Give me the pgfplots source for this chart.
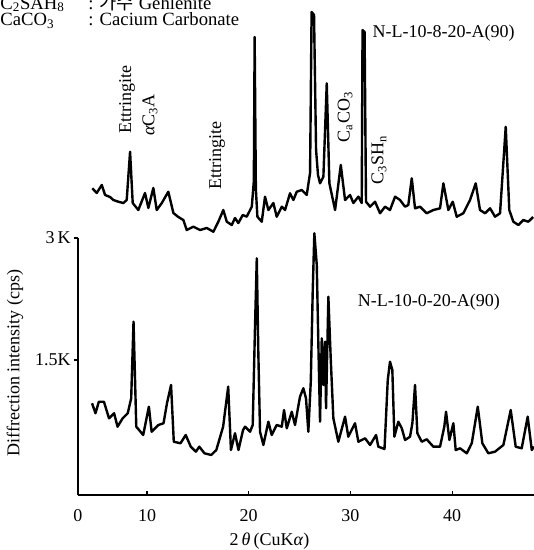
\documentclass[border=0pt]{standalone}
\usepackage{fontspec}
\setmainfont{Liberation Serif}
\newfontfamily\krfont{Noto Sans CJK KR}
\usepackage{pgfplots}
\usepackage{pgfplotstable}
\pgfplotsset{compat=1.18}

% XRD scan, N-L-10-8-20-A(90) (intensity in kcps, shifted upwards)
\pgfplotstableread{
x y
4.62 3.611
5.05 3.553
5.55 3.652
5.87 3.529
6.36 3.504
6.69 3.467
7.18 3.446
7.67 3.430
8.00 3.467
8.33 4.061
8.59 3.430
9.14 3.344
9.80 3.553
10.13 3.369
10.62 3.615
10.95 3.344
11.45 3.430
12.09 3.569
12.59 3.307
13.08 3.258
13.57 3.221
13.90 3.098
14.55 3.139
15.21 3.098
15.87 3.123
16.52 3.077
17.01 3.200
17.50 3.344
17.84 3.200
18.33 3.160
18.65 3.246
18.98 3.184
19.41 3.283
19.80 3.262
20.30 3.385
20.50 3.700
20.58 5.471
20.70 3.600
20.85 3.262
21.28 3.200
21.60 3.508
21.93 3.344
22.42 3.430
22.75 3.262
23.25 3.385
23.57 3.344
24.06 3.550
24.39 3.467
24.72 3.569
25.21 3.590
25.70 3.529
26.03 3.799
26.18 5.779
26.42 5.742
26.62 4.082
26.81 3.775
27.01 3.672
27.34 3.754
27.67 4.902
27.93 3.672
28.49 3.344
29.05 3.898
29.47 3.467
29.96 3.529
30.29 3.430
30.78 3.508
31.11 3.430
31.19 5.557
31.39 5.533
31.53 3.446
31.93 3.385
32.42 3.446
32.91 3.304
33.40 3.385
33.89 3.344
34.39 3.508
34.88 3.467
35.37 3.385
35.69 3.406
36.03 3.734
36.35 3.365
36.84 3.385
37.50 3.304
38.15 3.344
38.81 3.365
39.14 3.672
39.63 3.344
40.06 3.446
40.45 3.262
41.10 3.304
41.76 3.467
42.32 3.672
42.74 3.344
43.24 3.304
43.73 3.365
44.22 3.262
44.71 3.304
45.27 4.368
45.62 3.344
46.02 3.200
46.51 3.160
47.00 3.221
47.49 3.200
47.96 3.258
}\scanA

% XRD scan, N-L-10-0-20-A(90)
\pgfplotstableread{
x y
4.59 0.968
4.93 0.845
5.26 0.987
5.76 0.987
6.26 0.783
6.76 0.845
7.10 0.680
7.60 0.783
8.10 0.845
8.44 1.029
8.67 1.971
8.94 0.680
9.62 0.578
10.18 0.926
10.45 0.618
11.12 0.701
11.62 0.722
11.96 0.968
12.36 1.193
12.63 0.495
13.29 0.476
13.80 0.578
14.30 0.434
14.80 0.373
15.14 0.434
15.64 0.353
16.31 0.332
16.81 0.393
17.48 0.680
17.98 1.172
18.25 0.393
18.65 0.599
18.99 0.393
19.44 0.639
19.64 0.680
20.13 0.618
20.39 0.701
20.62 1.930
20.79 2.750
20.94 1.602
21.11 0.618
21.44 0.455
21.93 0.741
22.26 0.578
22.75 0.701
23.25 0.680
23.47 0.885
23.74 0.660
24.23 0.864
24.55 0.701
25.04 1.049
25.37 1.152
25.63 1.029
25.86 0.618
26.10 1.233
26.29 2.340
26.45 3.058
26.69 2.668
26.84 1.725
27.01 0.741
27.18 1.767
27.34 1.193
27.50 1.725
27.60 0.906
27.83 2.278
28.06 1.521
28.32 0.783
28.81 0.495
29.47 0.803
29.79 0.557
30.45 0.722
30.78 0.495
31.44 0.537
31.93 0.455
32.52 0.578
32.74 0.434
33.35 0.406
33.67 1.254
33.89 1.479
34.12 1.377
34.32 0.557
34.71 0.741
35.05 0.660
35.37 0.516
35.86 0.557
36.09 0.722
36.35 1.193
36.58 0.599
37.01 0.495
37.50 0.525
38.15 0.434
38.81 0.434
39.23 0.680
39.40 0.864
39.73 0.516
40.12 0.722
40.35 0.393
40.78 0.414
41.44 0.353
41.93 0.476
42.52 0.926
42.97 0.476
43.56 0.353
44.22 0.373
45.04 0.455
45.76 0.885
46.25 0.434
46.84 0.414
47.43 0.803
47.83 0.393
48.05 0.434
}\scanB

\begin{document}
\begin{tikzpicture}[font=\fontsize{13.5}{15}\selectfont]
\begin{axis}[
  scale only axis,
  width=342pt, height=192.75pt,
  xmin=3.21, xmax=48.05, ymin=-0.16, ymax=3,
  axis x line*=bottom, axis y line*=left,
  axis line style={-, line width=0.9pt},
  clip=false,
  xtick={3.21,10,20,30,40}, xticklabels={0,10,20,30,40},
  ytick={1.5,3}, yticklabels={1.5K,3\,K},
  tick align=inside,
  major tick length=3pt,
  xtick style={line width=0.9pt, black},
  ytick style={line width=0.9pt, black, xshift=-3pt},
  ticklabel style={font=\fontsize{13.5}{15}\selectfont},
  xticklabel style={yshift=-7pt},
  yticklabel style={xshift=-2pt},
  xlabel={2\,\textit{θ}\,(CuK\textit{α})},
  xlabel style={at={(axis description cs:0.42,-0.18)}, anchor=center},
  ylabel={Diffrection intensity (cps)},
  ylabel style={at={(axis description cs:-0.138,0.514)}, anchor=center},
]
\coordinate (o) at (rel axis cs:0,0);

\addplot[black, line width=1.8pt, line join=round] table[x=x, y=y] {\scanA};
\addplot[black, line width=1.8pt, line join=round] table[x=x, y=y] {\scanB};

% phase labels above the upper scan
\node[rotate=90] at (axis cs:8.03,4.697) {Ettringite};
\node[rotate=90] at (axis cs:10.29,4.512) {\textit{α}C\textsubscript{3}A};
\node[rotate=90] at (axis cs:16.88,4.020) {Ettringite};
\node[rotate=90] at (axis cs:29.47,4.488) {C\textsubscript{a}CO\textsubscript{3}};
\node[rotate=90] at (axis cs:32.81,3.959) {C\textsubscript{3}SH\textsubscript{n}};

% sample names
\node[anchor=west] at (axis cs:31.73,5.520) {N-L-10-8-20-A(90)};
\node[anchor=west] at (axis cs:30.26,2.213) {N-L-10-0-20-A(90)};

% key of abbreviations
\begin{scope}[font=\fontsize{14}{15}\selectfont]
\node[anchor=base west, inner sep=0pt] at (axis cs:-4.45,5.815) {C\textsubscript{2}SAH\textsubscript{8}};
\node[anchor=base west, inner sep=0pt] at (axis cs:4.20,5.815) {: {\krfont 가수} Gehlenite};
\node[anchor=base west, inner sep=0pt] at (axis cs:-4.45,5.610) {CaCO\textsubscript{3}};
\node[anchor=base west, inner sep=0pt] at (axis cs:4.20,5.610) {: Cacium Carbonate};
\end{scope}
\end{axis}
\pgfresetboundingbox
\useasboundingbox ([shift={(-58.5pt,-41.25pt)}]o) rectangle ([shift={(342pt,371.25pt)}]o);
\end{tikzpicture}
\end{document}
